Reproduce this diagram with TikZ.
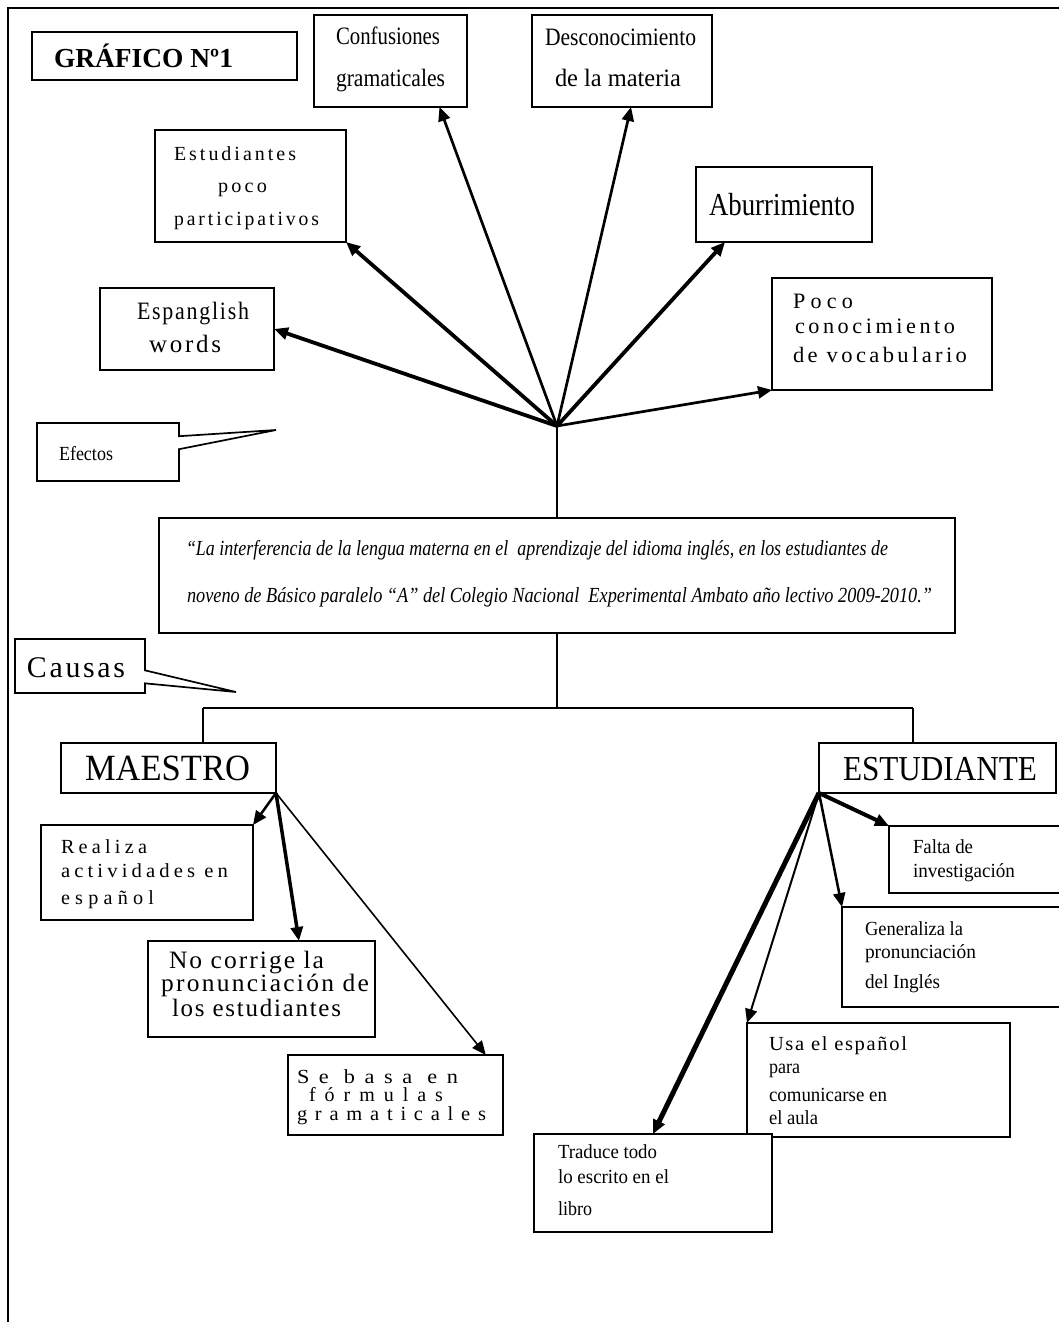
\documentclass[tikz,border=0pt]{standalone}
\usepackage{fontspec}
\usepackage{graphicx}
\setmainfont{Liberation Serif}
\usetikzlibrary{arrows.meta,calc,shapes.callouts}
\newcommand\txl[5]{\node[anchor=base west,inner sep=0pt,outer sep=0pt] (#1) at (#2) {\fontsize{#3}{#3}\selectfont\resizebox{#4pt}{\height}{#5}};}
\newcommand\bx[5]{\node[box,minimum width=#4pt,minimum height=#5pt] (#1) at (#2,#3) {};}
\newcommand\lsp[1]{\addfontfeature{LetterSpace=#1}}
\begin{document}
\begin{tikzpicture}[x=1pt,y=-1pt,
  box/.style={draw,line width=1.7pt,fill=white,inner sep=0pt,outer sep=0pt,anchor=north west},
  callbox/.style={rectangle callout,draw,line width=1.7pt,fill=white,inner sep=0pt,outer sep=0pt,callout pointer width=13pt},
  ln/.style={line width=1.4pt},
  arr/.style={-{Triangle[length=14pt,width=12pt]}}]
\useasboundingbox (0,0) rectangle (1059,1322);
\clip (0,0) rectangle (1059,1322);
% frame
\draw[line width=2pt] (8,1322) -- (8,8) -- (1059,8);
% boxes
\bx{graf}{32}{32}{265}{48}
\bx{conf}{314}{15}{153}{92}
\bx{desc}{532}{15}{180}{92}
\bx{estp}{155}{130}{191}{112}
\bx{abur}{696}{167}{176}{75}
\bx{esp}{100}{288}{174}{82}
\bx{poco}{772}{278}{220}{112}
\node[callbox,minimum width=142pt,minimum height=58pt,callout absolute pointer={(276,430)}] (efe) at (108,452) {};
\node[box,line width=2.2pt,minimum width=796pt,minimum height=115pt] (main) at (159,518) {};
\node[callbox,minimum width=130pt,minimum height=54pt,callout absolute pointer={(236,692)}] (cau) at (80,666) {};
\bx{maes}{61}{743}{215}{50}
\bx{estu}{819}{743}{237}{50}
\bx{real}{41}{825}{212}{95}
\bx{nocor}{148}{941}{227}{96}
\bx{seb}{288}{1055}{215}{80}
\bx{falta}{889}{826}{200}{67}
\bx{gen}{842}{907}{250}{100}
\bx{usa}{747}{1023}{263}{114}
\bx{trad}{534}{1134}{238}{98}
% connectors
\coordinate (fan) at (557,426);
\coordinate (jn) at (557,708);
\coordinate (jl) at (203,708);
\coordinate (jr) at (913,708);
\draw[ln] (main.north) -- (fan);
\draw[ln] (main.south) -- (jn);
\draw[ln] (jl) -- (jr);
\draw[ln] (jl) -- (jl |- maes.north);
\draw[ln] (jr) -- (jr |- estu.north);
\draw[arr,line width=3.8pt] (fan) -- (esp.east);
\draw[arr,line width=3.8pt] (fan) -- (estp.south east);
\draw[arr,line width=2.7pt] (fan) -- ($(conf.south west)!0.82!(conf.south east)$);
\draw[arr,line width=2.7pt] (fan) -- ($(desc.south west)!0.55!(desc.south east)$);
\draw[arr,line width=3.8pt] (fan) -- ($(abur.south west)!0.165!(abur.south east)$);
\draw[arr,line width=2.7pt] (fan) -- (poco.south west);
\draw[arr,line width=2.5pt] (maes.south east) -- (real.north east);
\draw[arr,line width=3.5pt] (maes.south east) -- ($(nocor.north west)!0.665!(nocor.north east)$);
\draw[arr,line width=1.6pt] (maes.south east) -- ($(seb.north west)!0.92!(seb.north east)$);
\draw[arr,line width=4pt] (estu.south west) -- (falta.north west);
\draw[arr,line width=2.5pt] (estu.south west) -- (gen.north west);
\draw[arr,line width=2pt] (estu.south west) -- (usa.north west);
\draw[arr,line width=5pt] (estu.south west) -- (trad.north);
% texts
\txl{tg}{54,67}{27.5}{179}{\bfseries GRÁFICO Nº1}
\txl{tc1}{336,45}{25}{104}{Confusiones}
\txl{tc2}{336,87}{25}{109}{gramaticales}
\txl{td1}{545,46}{25}{151}{Desconocimiento}
\txl{td2}{555,87}{25}{126}{de la materia}
\txl{te1}{174,160}{20}{122}{\lsp{15}Estudiantes}
\txl{te2}{218,192}{20}{49}{\lsp{16}poco}
\txl{te3}{174,225}{20}{145}{\lsp{15}participativos}
\txl{ts1}{137,319}{25}{112}{\lsp{8}Espanglish}
\txl{ts2}{149,352}{25}{72}{\lsp{11}words}
\txl{ta1}{709,215}{32}{146}{Aburrimiento}
\txl{tp1}{793,308}{22}{60}{\lsp{24}Poco}
\txl{tp2}{795,333}{22}{160}{\lsp{16}conocimiento}
\txl{tp3}{793,362}{22}{174}{\lsp{15}de vocabulario}
\txl{tef}{59,460}{20}{54}{Efectos}
\txl{tm1}{186,555}{21.5}{702}{\itshape “La interferencia de la lengua materna en el\ \ aprendizaje del idioma inglés, en los estudiantes de}
\txl{tm2}{187,602}{21.5}{745}{\itshape noveno de Básico paralelo “A” del Colegio Nacional\ \ Experimental Ambato año lectivo 2009-2010.”}
\txl{tca}{27,677}{30}{98}{\lsp{9}Causas}
\txl{tma}{85,780}{37}{165}{MAESTRO}
\txl{tes}{843,780}{35}{194}{ESTUDIANTE}
\txl{tr1}{61,853}{20}{86}{\lsp{21}Realiza}
\txl{tr2}{61,877}{20}{167}{\lsp{20}actividades en}
\txl{tr3}{61,904}{20}{93}{\lsp{26}español}
\txl{tn1}{169,968}{25}{155}{\lsp{8}No corrige la}
\txl{tn2}{161,991}{25}{208}{\lsp{9}pronunciación de}
\txl{tn3}{172,1016}{25}{169}{\lsp{7}los estudiantes}
\txl{tb1}{297,1083}{20}{161}{\lsp{43}Se basa en}
\txl{tb2}{309,1101}{20}{134}{\lsp{45}fórmulas}
\txl{tb3}{297,1120}{20}{189}{\lsp{38}gramaticales}
\txl{tf1}{913,853}{20}{60}{Falta de}
\txl{tf2}{913,877}{20}{102}{investigación}
\txl{tg1}{865,935}{20}{98}{Generaliza la}
\txl{tg2}{865,958}{20}{111}{pronunciación}
\txl{tg3}{865,988}{20}{75}{del Inglés}
\txl{tu1}{769,1050}{20}{138}{\lsp{8}Usa el español}
\txl{tu2}{769,1073}{20}{31}{para}
\txl{tu3}{769,1101}{20}{118}{comunicarse en}
\txl{tu4}{769,1124}{20}{49}{el aula}
\txl{tt1}{558,1158}{20}{99}{Traduce todo}
\txl{tt2}{558,1183}{20}{111}{lo escrito en el}
\txl{tt3}{558,1215}{20}{34}{libro}
\end{tikzpicture}
\end{document}
